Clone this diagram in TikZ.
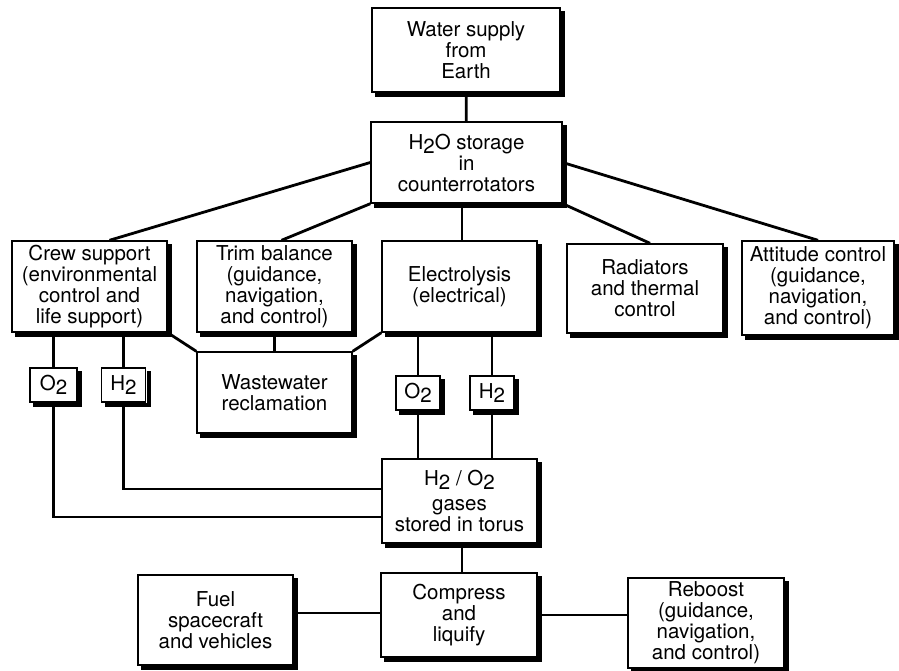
\documentclass[tikz,border=0pt]{standalone}
\usepackage{fontspec}
\setmainfont{TeX Gyre Heros}
\newcommand{\lowtwo}{\raisebox{-0.4ex}{2}}

\begin{document}
\begin{tikzpicture}[x=1pt,y=-1pt,
	box/.style={draw,line width=1.4pt,fill=white,align=center,inner sep=0pt,
		font=\fontsize{20.5}{21}\selectfont},
	gas/.style={box,minimum width=44pt,minimum height=34pt},
	dims/.style 2 args={minimum width=#1pt,minimum height=#2pt},
	shade/.style={line width=4pt},
	link/.style={line width=2.8pt}]
			\useasboundingbox (0,0) rectangle (899,671);
			\node[box,dims={188}{84}] (water) at (466,50) {Water supply\\from\\Earth};
			\node[box,dims={191}{81}] (storage) at (466.5,162.5) {H\lowtwo O storage\\in\\counterrotators};
			\node[box,dims={155}{91}] (crew) at (89.5,286.5) {Crew support\\(environmental\\control and\\life support)};
			\node[box,dims={155}{91}] (trim) at (274.5,286.5) {Trim balance\\(guidance,\\navigation,\\and control)};
			\node[box,dims={155}{91}] (elec) at (459.5,286.5) {Electrolysis\\(electrical)};
			\node[box,dims={156}{89}] (rad) at (645,288.5) {Radiators\\and thermal\\control};
			\node[box,dims={152}{94}] (att) at (818,288) {Attitude control\\(guidance,\\navigation,\\and control)};
			\node[box,dims={155}{81}] (waste) at (274.5,392.5) {Wastewater\\reclamation};
			\node[gas,minimum width=47pt] (oxyA) at (53.5,385) {O\lowtwo};
			\node[gas] (hydA) at (123.5,385) {H\lowtwo};
			\node[gas] (oxyB) at (418,393) {O\lowtwo};
			\node[gas] (hydB) at (492,393) {H\lowtwo};
			\node[box,dims={155}{84}] (torus) at (459.5,501) {H\lowtwo\ / O\lowtwo\\[4pt]gases\\stored in torus};
			\node[box,dims={156}{84}] (comp) at (459,615) {Compress\\and\\liquify};
			\node[box,dims={155}{90}] (fuel) at (215.5,620) {Fuel\\spacecraft\\and vehicles};
			\node[box,dims={156}{90}] (reboost) at (706,623) {Reboost\\(guidance,\\navigation,\\and control)};
			
			\foreach \n in {water,storage,crew,trim,elec,rad,att,waste,oxyA,hydA,oxyB,hydB,torus,comp,fuel,reboost}
				\draw[shade] ([shift={(2.5pt,-4pt)}]\n.north east) -- ([shift={(2.5pt,-2.5pt)}]\n.south east) -- ([shift={(4pt,-2.5pt)}]\n.south west);
			
			\draw[link] (water) -- (storage);
			\draw[link] (storage.west) -- ([xshift=20pt]crew.north);
			\draw[link] (storage.south west) -- ([xshift=7pt]trim.north);
			\draw[link] ([xshift=2.5pt]elec.north) -- ([xshift=2.5pt]elec.north |- storage.south);
			\draw[link] (storage.south east) -- ([xshift=5pt]rad.north);
			\draw[link] (storage.east) -- (att.north);
			\draw[link] (crew.south east) -- (waste.north west);
			\draw[link] (trim) -- (waste);
			\draw[link] (elec.south west) -- (waste.north east);
			\draw[link] (oxyA.north) -- (oxyA.north |- crew.south);
			\draw[link] (hydA.north) -- (hydA.north |- crew.south);
			\draw[link] (oxyA.south) |- ([yshift=-16pt]torus.west);
			\draw[link] (hydA.south) |- ([yshift=12pt]torus.west);
			\draw[link] (oxyB.north) -- (oxyB.north |- elec.south);
			\draw[link] (hydB.north) -- (hydB.north |- elec.south);
			\draw[link] (oxyB.south) -- (oxyB.south |- torus.north);
			\draw[link] (hydB.south) -- (hydB.south |- torus.north);
			\draw[link] ([xshift=2.5pt]torus.south) -- ([xshift=2.5pt]torus.south |- comp.north);
			\draw[link] ([yshift=2pt]comp.west) -- ([yshift=2pt]comp.west -| fuel.east);
			\draw[link] (comp.east) -- (comp.east -| reboost.west);
\end{tikzpicture}
\end{document}
